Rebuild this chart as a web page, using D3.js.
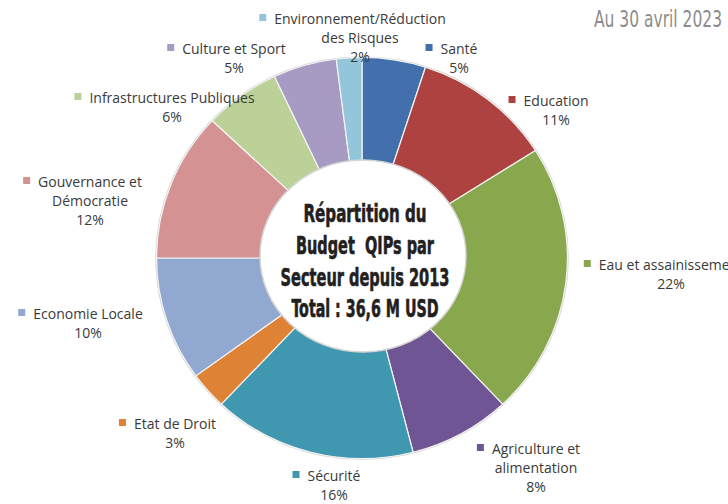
<!DOCTYPE html>
<html>
<head>
<meta charset="utf-8">
<script src="https://cdn.jsdelivr.net/npm/d3@7"></script>
<style>
  body { margin: 0; background: #fff; }
  svg { display: block; }
  .lbl { font-family: "Open Sans", sans-serif; font-size: 14px; fill: #3a3a3a; }
  .center { font-family: "Liberation Sans Narrow", "DejaVu Sans Condensed", sans-serif; font-weight: bold; font-size: 24px; fill: #231f20; stroke: #231f20; stroke-width: 0.6px; }
  .note { font-family: "Liberation Sans Narrow", "DejaVu Sans Condensed", sans-serif; font-size: 23px; fill: #8c8c8c; }
</style>
</head>
<body>
<svg id="chart" width="728" height="504"></svg>
<script>
// data, clockwise from 12 o'clock
const sectors = ["Santé", "Education", "Eau et assainissement", "Agriculture et alimentation",
  "Sécurité", "Etat de Droit", "Economie Locale", "Gouvernance et Démocratie",
  "Infrastructures Publiques", "Culture et Sport", "Environnement/Réduction des Risques"];
const shares = [5, 11, 22, 8, 16, 3, 10, 12, 6, 5, 2];
const labelLines = [["Santé"], ["Education"], ["Eau et assainissement"], ["Agriculture et", "alimentation"],
  ["Sécurité"], ["Etat de Droit"], ["Economie Locale"], ["Gouvernance et", "Démocratie"],
  ["Infrastructures Publiques"], ["Culture et Sport"], ["Environnement/Réduction", "des Risques"]];
const centerLines = ["Répartition du", "Budget  QIPs par", "Secteur depuis 2013", "Total : 36,6 M USD"];
const dateNote = "Au 30 avril 2023";

// styles / layout
const sectorColors = ["#4170ad", "#ad4240", "#89a84d", "#6f5594", "#3f97b0", "#de8235",
  "#91a8d0", "#d49392", "#bcd198", "#a89bc3", "#93c6da"];
// label anchor: [text centre x, first baseline y]
const labelAt = [[459, 54], [556, 106], [671, 270], [536, 454], [334, 481], [175, 429],
  [88, 319], [90, 187], [172, 103], [234, 54], [360, 24]];
const centerBase = [222, 254, 286, 317];
const centerWidth = [123, 138, 169, 147];

let width = 728, height = 504;
let cx = 362, cy = 258;
let outerR = 203, innerR = 90;
let lineH = 19;

const svg = d3.select("#chart").attr("width", width).attr("height", height);
svg.append("rect").attr("width", width).attr("height", height).attr("fill", "#fff");

const pie = d3.pie().sort(null).value(d => d);
const arc = d3.arc().innerRadius(innerR).outerRadius(outerR);
const arcs = pie(shares);

const g = svg.append("g")
  .attr("transform", "translate(" + cx + "," + cy + ") scale(1.012,0.988)");

g.append("circle")
  .attr("r", outerR + 0.5)
  .attr("fill", "none")
  .attr("stroke", "#d4d4d4")
  .attr("stroke-width", 1.5);

g.selectAll("path.slice")
  .data(arcs)
  .enter().append("path")
    .classed("slice", true)
    .attr("d", arc)
    .attr("fill", (d, i) => sectorColors[i])
    .attr("stroke", "#f4f4f4")
    .attr("stroke-width", 1.2);

// white centre disc with the title
svg.append("ellipse")
  .attr("cx", cx + 1).attr("cy", cy - 2)
  .attr("rx", 103).attr("ry", 96)
  .attr("fill", "#fff")
  .attr("stroke", "#d6d6d6")
  .attr("stroke-width", 1.5);

svg.selectAll("text.center")
  .data(centerLines)
  .enter().append("text")
    .classed("center", true)
    .attr("x", cx + 3)
    .attr("y", (d, i) => centerBase[i])
    .attr("text-anchor", "middle")
    .attr("textLength", (d, i) => centerWidth[i])
    .attr("lengthAdjust", "spacingAndGlyphs")
    .style("white-space", "pre")
    .text(d => d);

// data labels
const labels = svg.selectAll("g.label")
  .data(arcs)
  .enter().append("g")
    .classed("label", true)
    .attr("transform", (d, i) => "translate(" + labelAt[i][0] + "," + labelAt[i][1] + ")");

labels.each(function(d, i) {
  let lab = d3.select(this);
  let lines = labelLines[i].concat([shares[i] + "%"]);
  let first = null;
  lines.forEach(function(t, k) {
    let txt = lab.append("text")
      .classed("lbl", true)
      .attr("x", 0)
      .attr("y", k * lineH)
      .attr("text-anchor", "middle")
      .text(t);
    if (k == 0) first = txt;
  });
  let w = first.node().getComputedTextLength();
  lab.append("rect")
    .attr("x", -w / 2 - 15)
    .attr("y", -10)
    .attr("width", 7)
    .attr("height", 7)
    .attr("fill", sectorColors[i]);
});

svg.append("text")
  .classed("note", true)
  .attr("x", 594)
  .attr("y", 27)
  .attr("textLength", 128)
  .attr("lengthAdjust", "spacingAndGlyphs")
  .text(dateNote);
</script>
</body>
</html>
